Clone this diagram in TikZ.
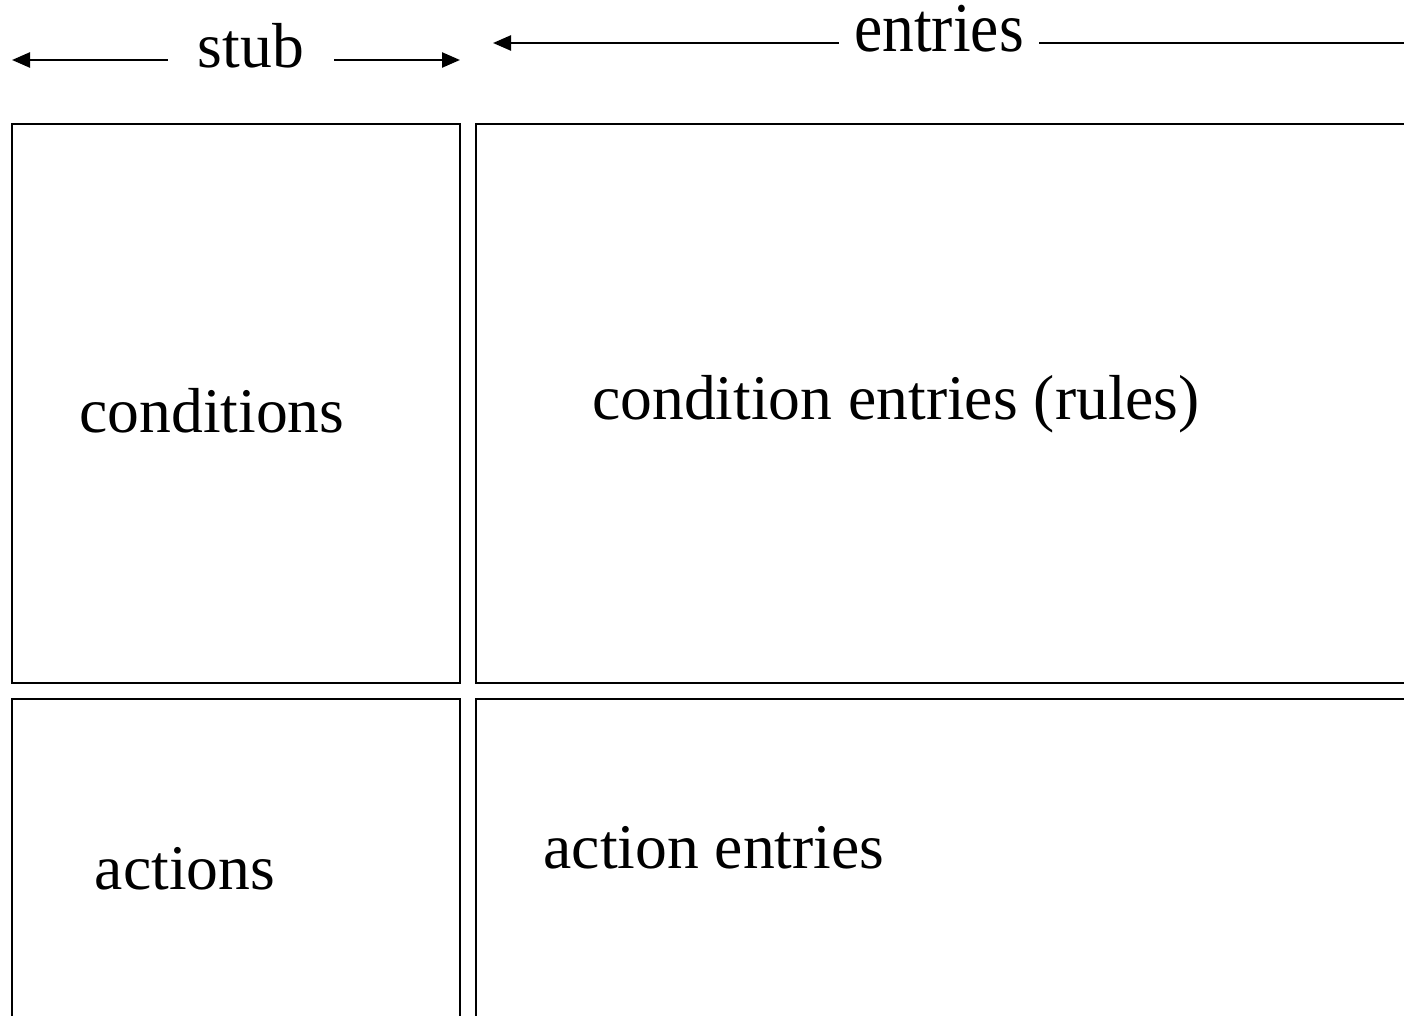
\documentclass[tikz,border=0pt]{standalone}
\usepackage{fontspec}
\setmainfont{Liberation Serif}
\usetikzlibrary{arrows.meta}

\begin{document}
\begin{tikzpicture}[x=0.5pt,y=-0.5pt,line join=miter,
  panel/.style={line width=1pt},
  txt/.style={anchor=base,inner sep=0pt,font=\fontsize{31.8}{38}\selectfont},
  span/.style={line width=1.2pt,-{Triangle[length=9pt,width=7.5pt]}}]
  \useasboundingbox (0,0) rectangle (1404,1016);
  \clip (0,0) rectangle (1404,1016);

  % --- frecce di misura sopra la tabella
  \node[txt,inner xsep=15pt] (stub) at (251,68) {stub};
  \coordinate (stubL) at (12,60);
  \coordinate (stubR) at (460,60);
  \draw[span] (stub.west |- stubL) -- (stubL);
  \draw[span] (stub.east |- stubR) -- (stubR);

  \node[txt,inner xsep=7.5pt] (entries) at (939,52) {\scalebox{1}[1.1]{entries}};
  \coordinate (entL) at (493,43);
  \coordinate (entR) at (1420,43);
  \draw[span] (entries.west |- entL) -- (entL);
  \draw[line width=1.2pt] (entries.east |- entR) -- (entR);

  % --- i quattro riquadri della tabella
  \draw[panel] (12,124) rectangle (460,683);
  \draw[panel] (476,124) rectangle (1420,683);
  \draw[panel] (12,699) rectangle (460,1030);
  \draw[panel] (476,699) rectangle (1420,1030);

  % --- scritte nei riquadri
  \node[txt] (cond) at (212,432) {conditions};
  \node[txt] (condent) at (896,420) {condition entries (rules)};
  \node[txt] (act) at (185,889) {actions};
  \node[txt] (actent) at (714,868) {action entries};
\end{tikzpicture}
\end{document}
